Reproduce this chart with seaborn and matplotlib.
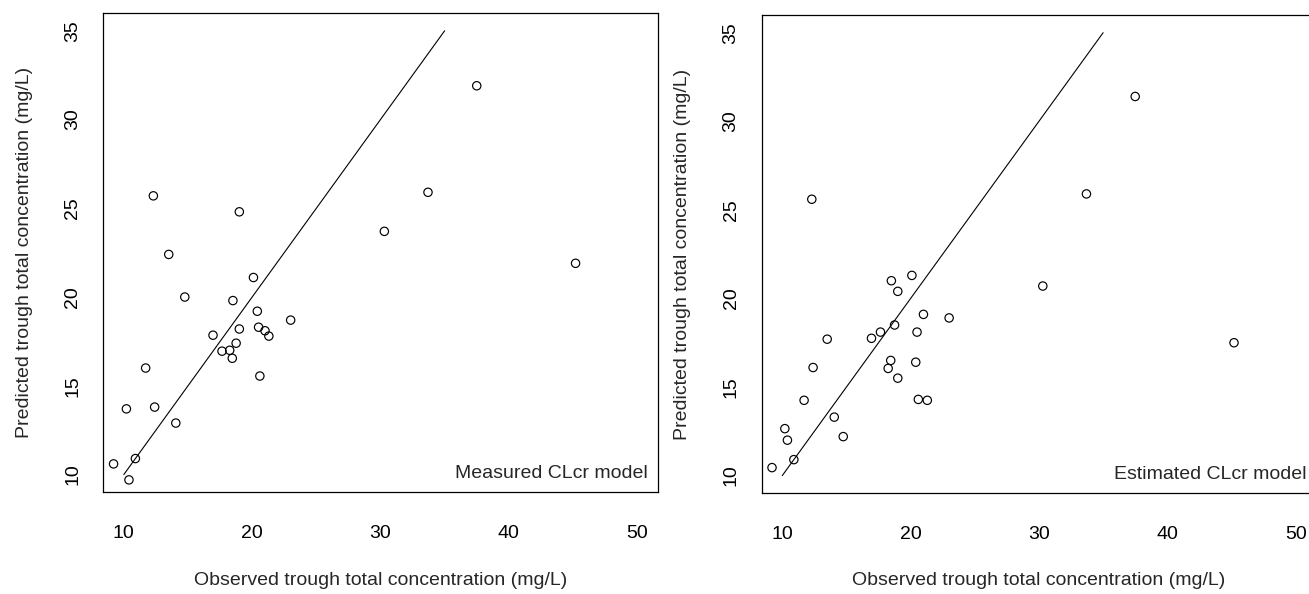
import matplotlib
matplotlib.use("Agg")
from matplotlib import pyplot as plt
import seaborn as sns

# observed trough total concentration (mg/L), same patients in both panels
observed = [37.5, 45.2, 33.7, 30.3, 12.3, 13.5, 20.1, 14.75, 18.5, 20.4,
            23.0, 19.0, 19.0, 20.5, 21.0, 21.3, 16.95, 18.75, 17.65, 18.25,
            18.45, 20.6, 11.7, 10.2, 12.4, 14.05, 10.9, 9.2, 10.4]

# predicted trough, measured CLcr model
pred_measured = [31.9, 21.9, 25.9, 23.7, 25.7, 22.4, 21.1, 20.0, 19.8, 19.2,
                 18.7, 24.8, 18.2, 18.3, 18.1, 17.8, 17.85, 17.4, 16.95, 17.0,
                 16.55, 15.55, 16.0, 13.7, 13.8, 12.9, 10.9, 10.6, 9.7]

# predicted trough, estimated CLcr model
pred_estimated = [31.4, 17.5, 25.9, 20.7, 25.6, 17.7, 21.3, 12.2, 21.0, 16.4,
                  18.9, 20.4, 15.5, 18.1, 19.1, 14.25, 17.75, 18.5, 18.1, 16.05,
                  16.5, 14.3, 14.25, 12.65, 16.1, 13.3, 10.9, 10.45, 12.0]

identity = [10, 35]
x_ticks = [10, 20, 30, 40, 50]
y_ticks = [10, 15, 20, 25, 30, 35]

panels = [
    (pred_measured, "Measured CLcr model"),
    (pred_estimated, "Estimated CLcr model"),
]

sns.set_style("white")
plt.rcParams["font.family"] = ["Liberation Sans", "DejaVu Sans"]

W, H = 1309, 594
fig = plt.figure(figsize=(W / 100, H / 100), dpi=100)
ax1 = fig.add_axes([103.3 / W, 1 - 492.3 / H, 554.4 / W, 479.3 / H])
ax2 = fig.add_axes([761.75 / W, 1 - 493.3 / H, 554.4 / W, 478.3 / H])

for ax, (pred, label) in zip([ax1, ax2], panels):
    sns.lineplot(x=identity, y=identity, color="black", linewidth=0.8, ax=ax)
    sns.scatterplot(x=observed, y=pred, ax=ax, s=36, marker="o",
                    facecolor="none", edgecolor="black", linewidth=0.85)

    # R style limits: 4% padding around 10..50 / 10..35
    ax.set_xlim(10 - 0.04 * 40, 50 + 0.04 * 40)
    ax.set_ylim(10 - 0.04 * 25, 35 + 0.04 * 25)
    ax.set_xticks(x_ticks)
    ax.set_yticks(y_ticks)

    for sp in ax.spines.values():
        sp.set_visible(True)
        sp.set_color("black")
        sp.set_linewidth(0.9)

    ax.tick_params(axis="both", direction="out", length=8, width=0.8,
                   color="black", labelsize=14, labelcolor="black")
    ax.tick_params(axis="x", pad=15.5)
    ax.tick_params(axis="y", pad=8, labelrotation=90)
    for lab in ax.get_yticklabels():
        lab.set_va("center")

    ax.set_xlabel("Observed trough total concentration (mg/L)", fontsize=14)
    ax.set_ylabel("Predicted trough total concentration (mg/L)", fontsize=14)
    ax.xaxis.label.set_va("center")
    ax.yaxis.label.set_va("center")
    ax.xaxis.set_label_coords(0.5, -0.183)
    ax.yaxis.set_label_coords(-0.143, 0.5)

    ax.text(0.982, 0.030, label, transform=ax.transAxes, ha="right",
            va="baseline", fontsize=14)

plt.savefig("out.png", dpi=100)
